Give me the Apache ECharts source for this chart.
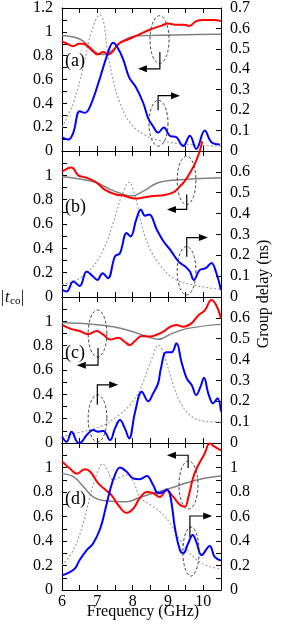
<!DOCTYPE html>
<html><head><meta charset="utf-8">
<script src="https://cdn.jsdelivr.net/npm/echarts/dist/echarts.min.js"></script>
<style>html,body{margin:0;padding:0;background:#fff}#c{width:281px;height:625px}</style>
</head><body><div id="c"></div>
<script>
// ---------- data ----------
const FREQ_TICKS = [6, 7, 8, 9, 10];
const PANEL_LABELS = ['(a)', '(b)', '(c)', '(d)'];
const LEFT_MAX = [1.2, 1.2, 1.2, 1.2];
const RIGHT_MAX = [0.7, 0.7, 0.7, 1.2];
const RIGHT_LABEL_STEP = [0.1, 0.1, 0.1, 0.2];

// panel (a)
const A_TCO = [[6,0.92],[6.15,0.9],[6.32,0.88],[6.48,0.9],[6.6,0.9],[6.75,0.87],[6.9,0.83],[7.0,0.81],[7.17,0.83],[7.32,0.81],[7.45,0.84],[7.6,0.9],[7.9,0.94],[8.2,0.98],[8.5,1.02],[8.8,1.05],[9.0,1.07],[9.2,1.06],[9.45,1.06],[9.6,1.05],[9.8,1.09],[10.0,1.1],[10.3,1.1],[10.5,1.09]];
const A_TCO_SIM = [[6,0.97],[6.5,0.94],[6.8,0.87],[7.0,0.82],[7.2,0.81],[7.45,0.85],[7.7,0.92],[8.0,0.96],[8.5,0.97],[9.5,0.975],[10.5,0.98]];
const A_GD = [[6,0.067],[6.18,0.056],[6.32,0.09],[6.5,0.195],[6.65,0.187],[6.8,0.22],[7.08,0.36],[7.26,0.46],[7.45,0.53],[7.56,0.51],[7.73,0.45],[7.9,0.36],[8.1,0.31],[8.3,0.235],[8.44,0.16],[8.58,0.12],[8.72,0.09],[8.88,0.115],[9.05,0.075],[9.24,0.067],[9.43,0.024],[9.62,0.075],[9.8,0.01],[10.04,0.1],[10.23,0.043],[10.47,0.032]];
const A_GD_SIM = [[6,0.115],[6.32,0.235],[6.6,0.41],[6.84,0.586],[7.08,0.666],[7.17,0.64],[7.3,0.474],[7.45,0.347],[7.64,0.235],[7.92,0.139],[8.3,0.083],[8.77,0.051],[9.7,0.03],[10.5,0.024]];

// panel (b)
const B_TCO = [[6,1.03],[6.27,1.065],[6.46,1.0],[6.7,0.98],[6.98,0.94],[7.22,0.88],[7.5,0.845],[7.78,0.83],[8.07,0.81],[8.3,0.817],[8.58,0.83],[8.87,0.836],[9.15,0.86],[9.34,0.91],[9.48,0.955],[9.62,1.02],[9.77,1.1],[9.9,1.2],[9.97,1.28]];
const B_TCO_SIM = [[6,0.99],[6.5,0.97],[6.98,0.94],[7.36,0.885],[7.73,0.845],[7.97,0.83],[8.3,0.87],[8.68,0.935],[9.15,0.96],[10.5,0.98]];
const B_GD = [[6,0.034],[6.13,0.026],[6.32,0.074],[6.5,0.053],[6.7,0.122],[6.88,0.098],[7.0,0.082],[7.15,0.114],[7.3,0.09],[7.5,0.195],[7.64,0.21],[7.83,0.307],[7.94,0.29],[8.1,0.37],[8.23,0.42],[8.35,0.39],[8.47,0.396],[8.68,0.324],[8.87,0.267],[9.06,0.227],[9.3,0.17],[9.48,0.147],[9.62,0.122],[9.73,0.082],[9.9,0.13],[10.07,0.138],[10.23,0.163],[10.37,0.114],[10.5,0.034]];
const B_GD_SIM = [[6,0.058],[6.5,0.09],[6.88,0.147],[7.17,0.227],[7.45,0.356],[7.69,0.485],[7.9,0.55],[8.07,0.485],[8.26,0.34],[8.5,0.227],[8.77,0.155],[9.15,0.09],[9.7,0.058],[10.5,0.037]];

// panel (c)
const C_TCO = [[6,0.97],[6.23,0.94],[6.5,0.92],[6.74,0.895],[6.98,0.92],[7.17,0.89],[7.36,0.85],[7.6,0.865],[7.78,0.83],[7.92,0.805],[8.07,0.84],[8.26,0.88],[8.5,0.875],[8.68,0.89],[8.87,0.915],[9.06,0.955],[9.24,0.97],[9.43,0.955],[9.67,0.985],[9.86,1.05],[10.04,1.09],[10.23,1.175],[10.37,1.13],[10.5,1.025]];
const C_TCO_SIM = [[6,0.99],[6.88,0.975],[7.45,0.955],[8.0,0.915],[8.4,0.875],[8.73,0.852],[9.06,0.893],[9.53,0.94],[10.5,0.975]];
const C_GD = [[6,0.03],[6.13,0.006],[6.27,0.054],[6.42,0.006],[6.5,0.0],[6.7,0.038],[6.88,0.062],[7.03,0.054],[7.17,0.058],[7.36,0.014],[7.5,0.07],[7.64,0.11],[7.78,0.07],[7.9,0.022],[8.07,0.15],[8.26,0.246],[8.44,0.2],[8.58,0.238],[8.72,0.286],[8.8,0.358],[8.95,0.435],[9.1,0.435],[9.24,0.478],[9.38,0.39],[9.53,0.31],[9.67,0.278],[9.8,0.23],[9.92,0.27],[10.02,0.313],[10.14,0.238],[10.28,0.19],[10.4,0.214],[10.5,0.15]];
const C_GD_SIM = [[6,0.03],[6.5,0.051],[7.08,0.078],[7.55,0.126],[7.92,0.182],[8.2,0.254],[8.44,0.358],[8.58,0.42],[8.72,0.47],[8.8,0.46],[8.95,0.39],[9.15,0.278],[9.34,0.198],[9.62,0.134],[10.0,0.105],[10.5,0.1]];

// panel (d)
const D_TCO = [[6,1.05],[6.23,0.99],[6.42,0.95],[6.65,0.985],[6.8,0.965],[7.03,0.87],[7.22,0.82],[7.4,0.775],[7.6,0.69],[7.83,0.63],[8.02,0.665],[8.2,0.75],[8.4,0.8],[8.58,0.79],[8.77,0.76],[8.96,0.815],[9.15,0.76],[9.34,0.695],[9.48,0.68],[9.57,0.75],[9.72,0.925],[9.86,1.02],[10.04,1.115],[10.18,1.195],[10.32,1.17],[10.5,1.14]];
const D_TCO_SIM = [[6,0.95],[6.32,0.925],[6.6,0.845],[6.88,0.76],[7.17,0.73],[7.83,0.72],[8.2,0.755],[8.58,0.79],[9.06,0.83],[9.53,0.875],[10.0,0.91],[10.5,0.93]];
const D_GD = [[6,0.12],[6.18,0.14],[6.37,0.177],[6.5,0.245],[6.7,0.325],[6.88,0.38],[7.08,0.5],[7.22,0.65],[7.36,0.815],[7.5,0.94],[7.64,1.0],[7.83,0.965],[8.02,0.91],[8.2,0.905],[8.4,0.93],[8.58,0.857],[8.72,0.79],[8.87,0.8],[8.96,0.82],[9.06,0.775],[9.2,0.5],[9.34,0.325],[9.43,0.3],[9.57,0.38],[9.7,0.45],[9.8,0.395],[9.95,0.285],[10.18,0.36],[10.32,0.27],[10.5,0.24]];
const D_GD_SIM = [[6,0.2],[6.32,0.325],[6.6,0.545],[6.84,0.815],[7.03,0.98],[7.15,1.03],[7.26,0.99],[7.45,0.9],[7.64,0.92],[7.83,0.94],[8.02,0.885],[8.2,0.76],[8.5,0.695],[8.77,0.64],[9.06,0.545],[9.34,0.41],[9.72,0.27],[10.1,0.2],[10.5,0.17]];

const TCO = [A_TCO, B_TCO, C_TCO, D_TCO];
const TCO_SIM = [A_TCO_SIM, B_TCO_SIM, C_TCO_SIM, D_TCO_SIM];
const GD = [A_GD, B_GD, C_GD, D_GD];
const GD_SIM = [A_GD_SIM, B_GD_SIM, C_GD_SIM, D_GD_SIM];

// annotations (ellipse x1,x2,y1,y2 and arrow path, in data units; side 0 = left axis, 1 = right axis)
const ANNOTATIONS = [
  {panel:0, side:0, ell:[8.49,9.03,0.735,1.135], arrow:[[8.77,0.83],[8.77,0.69],[8.15,0.69]]},
  {panel:0, side:1, ell:[8.46,9.0,0.024,0.248], arrow:[[8.72,0.2],[8.72,0.271],[9.34,0.271]]},
  {panel:1, side:0, ell:[9.26,9.79,0.76,1.157], arrow:[[9.53,0.843],[9.53,0.72],[8.97,0.72]]},
  {panel:1, side:1, ell:[9.26,9.79,0.01,0.242], arrow:[[9.53,0.193],[9.53,0.285],[10.13,0.285]]},
  {panel:2, side:0, ell:[6.74,7.27,0.707,1.093], arrow:[[7.02,0.78],[7.02,0.64],[6.42,0.64]]},
  {panel:2, side:1, ell:[6.74,7.27,0.005,0.231], arrow:[[7.0,0.183],[7.0,0.279],[7.59,0.279]]},
  {panel:3, side:0, ell:[9.31,9.85,0.661,1.053], arrow:[[9.57,0.996],[9.57,1.1],[8.97,1.1]]},
  {panel:3, side:1, ell:[9.42,9.88,0.114,0.514], arrow:[[9.62,0.433],[9.62,0.604],[10.25,0.604]]}
];

// ---------- layout ----------
const FONT = 'Liberation Serif';
const GRID_LEFT = 62, GRID_W = 159;
const GRID_TOP = [5, 151, 297, 443];
const GRID_H = [146, 146, 146, 147];

function fmt(v){ return String(+v.toFixed(1)); }

const grids = [], xAxes = [], yAxes = [], series = [], graphics = [];
for (let p = 0; p < 4; p++) {
  grids.push({left: GRID_LEFT, top: GRID_TOP[p], width: GRID_W, height: GRID_H[p]});
  const isBottom = p === 3;
  const baseX = {
    gridIndex: p, type: 'value', min: 6, max: 10.5, interval: 0.5,
    axisLine: {show: true, onZero: false, lineStyle: {color: '#000', width: 1}},
    axisTick: {show: true, inside: true, length: 5, lineStyle: {color: '#000'}},
    splitLine: {show: false}
  };
  xAxes.push(Object.assign({}, baseX, {
    position: 'bottom',
    axisLabel: {show: isBottom, margin: 4, color: '#000', fontFamily: FONT, fontSize: 16,
      formatter: v => FREQ_TICKS.indexOf(Math.round(v * 10) / 10) >= 0 ? String(v) : ''}
  }));
  xAxes.push(Object.assign({}, baseX, {position: 'top', axisLabel: {show: false}}));

  yAxes.push({
    gridIndex: p, type: 'value', position: 'left', min: 0, max: LEFT_MAX[p], interval: 0.1,
    axisLine: {show: true, onZero: false, lineStyle: {color: '#000', width: 1}},
    axisTick: {show: true, inside: true, length: 5, lineStyle: {color: '#000'}},
    splitLine: {show: false},
    axisLabel: {color: '#000', fontFamily: FONT, fontSize: 16, margin: 9,
      formatter: v => { const k = Math.round(v * 10); if (k % 2) return ''; if (p > 0 && k === 12) return ''; return fmt(v); }}
  });
  const step = RIGHT_LABEL_STEP[p], rmax = RIGHT_MAX[p];
  yAxes.push({
    gridIndex: p, type: 'value', position: 'right', min: 0, max: rmax, interval: 0.1,
    axisLine: {show: true, onZero: false, lineStyle: {color: '#000', width: 1}},
    axisTick: {show: true, inside: true, length: 5, lineStyle: {color: '#000'}},
    splitLine: {show: false},
    axisLabel: {color: '#000', fontFamily: FONT, fontSize: 16, margin: 9,
      formatter: v => { const k = Math.round(v * 10); const s = Math.round(step * 10);
        if (k % s) return ''; if (p > 0 && Math.abs(v - rmax) < 1e-6) return ''; return fmt(v); }}
  });

  const xi = 2 * p, yl = 2 * p, yr = 2 * p + 1;
  series.push({type: 'line', xAxisIndex: xi, yAxisIndex: yr, data: GD_SIM[p], smooth: 0.4, symbol: 'none',
    lineStyle: {color: '#999999', width: 1.1, type: [2, 2]}, z: 2});
  series.push({type: 'line', xAxisIndex: xi, yAxisIndex: yl, data: TCO_SIM[p], smooth: 0.4, symbol: 'none',
    lineStyle: {color: '#808080', width: 1.5}, z: 3});
  series.push({type: 'line', xAxisIndex: xi, yAxisIndex: yl, data: TCO[p], smooth: 0.4, symbol: 'none',
    clip: p !== 1, lineStyle: {color: '#ff0000', width: 2}, z: 4});
  series.push({type: 'line', xAxisIndex: xi, yAxisIndex: yr, data: GD[p], smooth: 0.4, symbol: 'none',
    lineStyle: {color: '#0000ff', width: 2}, z: 4});

  graphics.push({type: 'text', left: 65, top: GRID_TOP[p] + 57 - 10,
    style: {text: PANEL_LABELS[p], fontFamily: FONT, fontSize: 18, fill: '#000'}});
}

function renderAnn(a) {
  return function (params, api) {
    const [x1, x2, y1, y2] = a.ell;
    const p1 = api.coord([x1, y1]), p2 = api.coord([x2, y2]);
    const cx = (p1[0] + p2[0]) / 2, cy = (p1[1] + p2[1]) / 2;
    const rx = Math.abs(p2[0] - p1[0]) / 2, ry = Math.abs(p2[1] - p1[1]) / 2;
    const pts = [];
    for (let k = 0; k < 60; k++) { const t = k / 60 * 2 * Math.PI; pts.push([cx + rx * Math.cos(t), cy + ry * Math.sin(t)]); }
    const ap = a.arrow.map(q => api.coord(q));
    const tip = ap[ap.length - 1], prev = ap[ap.length - 2];
    const dir = Math.sign(tip[0] - prev[0]);
    const L = 9, W = 3.5, base = tip[0] - dir * L;
    return {type: 'group', children: [
      {type: 'polygon', shape: {points: pts}, style: {fill: 'none', stroke: '#444', lineWidth: 1, lineDash: [3, 2]}},
      {type: 'polyline', shape: {points: [ap[0], ap[1], [base, tip[1]]]}, style: {fill: 'none', stroke: '#000', lineWidth: 1.2}},
      {type: 'polygon', shape: {points: [tip, [base, tip[1] - W], [base, tip[1] + W]]}, style: {fill: '#000', stroke: 'none'}}
    ]};
  };
}
ANNOTATIONS.forEach(a => {
  series.push({type: 'custom', xAxisIndex: 2 * a.panel, yAxisIndex: 2 * a.panel + a.side,
    data: [[a.ell[0], a.ell[2]]], renderItem: renderAnn(a), silent: true, clip: false, z: 6});
});

// axis titles
graphics.push({type: 'group', left: 1, top: 290, children: [
  {type: 'text', x: 0, y: 0, style: {text: '|', fontFamily: FONT, fontSize: 16, fill: '#000'}},
  {type: 'text', x: 4, y: 0, style: {text: 't', fontFamily: FONT, fontSize: 16, fontStyle: 'italic', fill: '#000'}},
  {type: 'text', x: 9, y: 6, style: {text: 'co', fontFamily: FONT, fontSize: 11, fill: '#000'}},
  {type: 'text', x: 20, y: 0, style: {text: '|', fontFamily: FONT, fontSize: 16, fill: '#000'}}
]});
graphics.push({type: 'text', x: 264, y: 294, rotation: Math.PI / 2,
  style: {text: 'Group delay (ns)', fontFamily: FONT, fontSize: 16, fill: '#000', align: 'center', verticalAlign: 'middle'}});
graphics.push({type: 'text', x: 143, y: 612,
  style: {text: 'Frequency (GHz)', fontFamily: FONT, fontSize: 16, fill: '#000', align: 'center', verticalAlign: 'middle'}});

const chart = echarts.init(document.getElementById('c'), null, {renderer: 'canvas'});
chart.setOption({
  animation: false,
  backgroundColor: '#fff',
  grid: grids, xAxis: xAxes, yAxis: yAxes, series: series, graphic: graphics
});
</script></body></html>
